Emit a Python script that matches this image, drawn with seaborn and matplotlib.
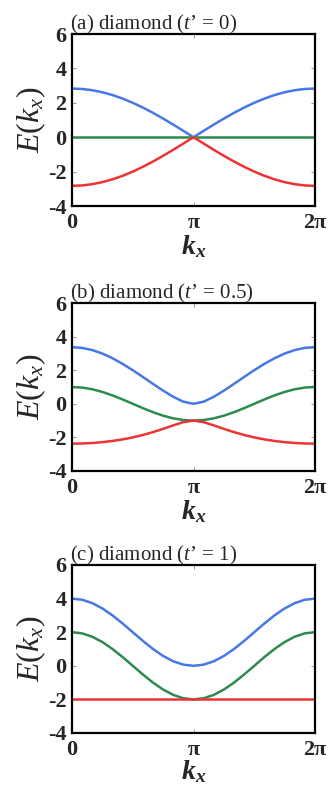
import numpy as np
import pandas as pd
import matplotlib
matplotlib.use("Agg")
import matplotlib.pyplot as plt
import seaborn as sns

# k_x sample points, in units of pi/12 (0 .. 24 -> 0 .. 2pi)
k_steps = list(range(25))

# (a) t' = 0
a_blue = [2.828, 2.804, 2.732, 2.613, 2.449, 2.244, 2.000, 1.722, 1.414, 1.082, 0.732, 0.369, 0.000,
          0.369, 0.732, 1.082, 1.414, 1.722, 2.000, 2.244, 2.449, 2.613, 2.732, 2.804, 2.828]
a_green = [0.0] * 25
a_red = [-2.828, -2.804, -2.732, -2.613, -2.449, -2.244, -2.000, -1.722, -1.414, -1.082, -0.732, -0.369, 0.000,
         -0.369, -0.732, -1.082, -1.414, -1.722, -2.000, -2.244, -2.449, -2.613, -2.732, -2.804, -2.828]

# (b) t' = 0.5
b_blue = [3.372, 3.328, 3.199, 2.990, 2.712, 2.377, 2.000, 1.597, 1.186, 0.785, 0.418, 0.125, 0.000,
          0.125, 0.418, 0.785, 1.186, 1.597, 2.000, 2.377, 2.712, 2.990, 3.199, 3.328, 3.372]
b_green = [1.000, 0.966, 0.866, 0.707, 0.500, 0.259, 0.000, -0.259, -0.500, -0.707, -0.866, -0.966, -1.000,
           -0.966, -0.866, -0.707, -0.500, -0.259, 0.000, 0.259, 0.500, 0.707, 0.866, 0.966, 1.000]
b_red = [-2.372, -2.363, -2.333, -2.283, -2.212, -2.118, -2.000, -1.856, -1.686, -1.492, -1.284, -1.091, -1.000,
         -1.091, -1.284, -1.492, -1.686, -1.856, -2.000, -2.118, -2.212, -2.283, -2.333, -2.363, -2.372]

# (c) t' = 1
c_blue = [4.000, 3.932, 3.732, 3.414, 3.000, 2.518, 2.000, 1.482, 1.000, 0.586, 0.268, 0.068, 0.000,
          0.068, 0.268, 0.586, 1.000, 1.482, 2.000, 2.518, 3.000, 3.414, 3.732, 3.932, 4.000]
c_green = [2.000, 1.932, 1.732, 1.414, 1.000, 0.518, 0.000, -0.518, -1.000, -1.414, -1.732, -1.932, -2.000,
           -1.932, -1.732, -1.414, -1.000, -0.518, 0.000, 0.518, 1.000, 1.414, 1.732, 1.932, 2.000]
c_red = [-2.0] * 25

titles = ["(a) diamond ($t$\u2019 = 0)", "(b) diamond ($t$\u2019 = 0.5)", "(c) diamond ($t$\u2019 = 1)"]
y_ticks = [-4, -2, 0, 2, 4, 6]
x_tick_labels = ["0", "\u03c0", "2\u03c0"]

panels = [(a_blue, a_green, a_red), (b_blue, b_green, b_red), (c_blue, c_green, c_red)]

sns.set_style("ticks")
plt.rcParams['font.family'] = ['Liberation Serif', 'DejaVu Serif']
plt.rcParams['mathtext.fontset'] = 'custom'
plt.rcParams['mathtext.it'] = 'Liberation Serif:italic'
plt.rcParams['mathtext.bf'] = 'Liberation Serif:bold:italic'
plt.rcParams['mathtext.rm'] = 'Liberation Serif'

W, H = 330, 789
fig = plt.figure(figsize=(W / 100, H / 100), dpi=100)

# axes boxes in pixels: (left, top, right, bottom)
boxes = [(72, 34, 315, 206), (72, 303, 315, 471), (72, 565, 315, 733)]
xlabel_pads = [0, 0, -1]
colors = {"blue": "#4678e6", "green": "#2e8b50", "red": "#ec3434"}

k_vals = [s * np.pi / 12 for s in k_steps]
serif = ['Liberation Serif', 'DejaVu Serif']

for (l, t, r, b), pad, title, (bl, gr, rd) in zip(boxes, xlabel_pads, titles, panels):
    ax = fig.add_axes([l / W, 1 - b / H, (r - l) / W, (b - t) / H])
    df = pd.DataFrame({
        "k": k_vals * 3,
        "E": bl + gr + rd,
        "band": ["blue"] * 25 + ["green"] * 25 + ["red"] * 25,
    })
    sns.lineplot(data=df, x="k", y="E", hue="band", palette=colors, ax=ax,
                 legend=False, linewidth=1.8, sort=False, estimator=None)
    ax.set_xlim(0, 2 * np.pi)
    ax.set_ylim(-4, 6)
    ax.set_xticks([0, np.pi, 2 * np.pi])
    ax.set_xticklabels(x_tick_labels, fontsize=16, fontweight='bold', family=serif)
    ax.set_yticks(y_ticks)
    ax.set_yticklabels([str(v) for v in y_ticks], fontsize=16, fontweight='bold', family=serif)
    ax.tick_params(axis='both', direction='in', length=3, width=0.6, color='#888888',
                   top=True, right=True)
    ax.tick_params(axis='x', pad=5)
    ax.tick_params(axis='y', pad=4)
    for sp in ax.spines.values():
        sp.set_linewidth(1.6)
        sp.set_color('black')
    ax.set_ylabel("$E(k_x)$", fontsize=23, labelpad=0)
    ax.set_xlabel("$\\mathbf{k_x}$", fontsize=20, labelpad=pad)
    ax.set_title(title, fontsize=15, loc='left', pad=3, x=-0.01)

fig.savefig("out.png", dpi=100)
